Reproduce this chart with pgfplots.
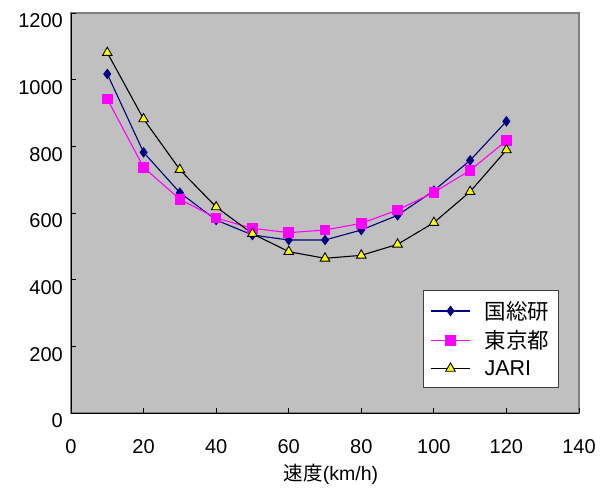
\documentclass[border=0pt]{standalone}
\usepackage{fontspec}
\setmainfont{Liberation Sans}
\newfontfamily\jp{Noto Sans CJK JP}
\usepackage{pgfplots}
\pgfplotsset{compat=1.18}
\definecolor{bggray}{HTML}{C0C0C0}
\definecolor{framegray}{HTML}{808080}
\definecolor{navy}{HTML}{000080}
\definecolor{mag}{HTML}{FF00FF}
\definecolor{yel}{HTML}{FFFF00}
\begin{document}
\begin{tikzpicture}
\useasboundingbox (-71bp,-78bp) rectangle (537bp,413bp);
\begin{axis}[
  at={(0,0)}, anchor=south west,
  scale only axis, width=508bp, height=400bp,
  xmin=0, xmax=140, ymin=0, ymax=1200,
  xtick={0,20,...,140}, ytick={0,200,...,1200},
  axis background/.style={fill=bggray, draw=framegray, line width=1.6bp},
  axis x line*=bottom, axis y line*=left,
  axis line style={black, line width=0.9bp, -},
  tick style={black, line width=0.8bp},
  tick align=inside, major tick length=5bp,
  /pgf/number format/assume math mode=true,
  /pgf/number format/1000 sep={},
  tick label style={font=\fontsize{20bp}{22bp}\selectfont, inner sep=0pt},
  yticklabel style={anchor=east, xshift=-8bp, yshift=-8bp},
  xticklabel style={anchor=north, yshift=-26bp},
  xlabel={{\jp 速度}(km/h)},
  xlabel style={at={(axis description cs:0.5,0)}, anchor=north, inner sep=0pt, yshift=-51bp, xshift=6bp, font=\fontsize{19.5bp}{22bp}\selectfont},
  legend style={at={(0.693,0.0625)}, anchor=south west, fill=white, draw=black!75, line width=0.8bp,
    font=\fontsize{21.5bp}{24bp}\selectfont, inner xsep=7bp, inner ysep=9bp, row sep=6bp, column sep=12bp},
  legend cell align=left,
  legend image code/.code={\draw[mark repeat=2,mark phase=2] plot coordinates {(0bp,0bp) (19.5bp,0bp) (39bp,0bp)};},
]
\addplot[navy, line width=1.1bp, mark=diamond*, mark size=4.5bp, mark options={fill=navy, draw=navy}] coordinates {
(10,1017) (20,782) (30,661) (40,579) (50,534) (60,519) (70,519) (80,549) (90,593) (100,667) (110,758) (120,875)};
\addlegendentry{{\jp 国総研}}
\addplot[mag, line width=1.1bp, mark=square*, mark size=4.8bp, mark options={fill=mag, draw=mag}] coordinates {
(10,942) (20,737) (30,641) (40,585) (50,554) (60,541) (70,549) (80,569) (90,609) (100,662) (110,728) (120,817)};
\addlegendentry{{\jp 東京都}}
\addplot[black, line width=1.1bp, mark=triangle*, mark size=5.5bp, mark options={fill=yel, draw=black, line width=0.9bp}] coordinates {
(10,1081) (20,882) (30,730) (40,618) (50,538) (60,484) (70,464) (80,473) (90,506) (100,571) (110,664) (120,789)};
\addlegendentry{JARI}
\end{axis}
\end{tikzpicture}
\end{document}
